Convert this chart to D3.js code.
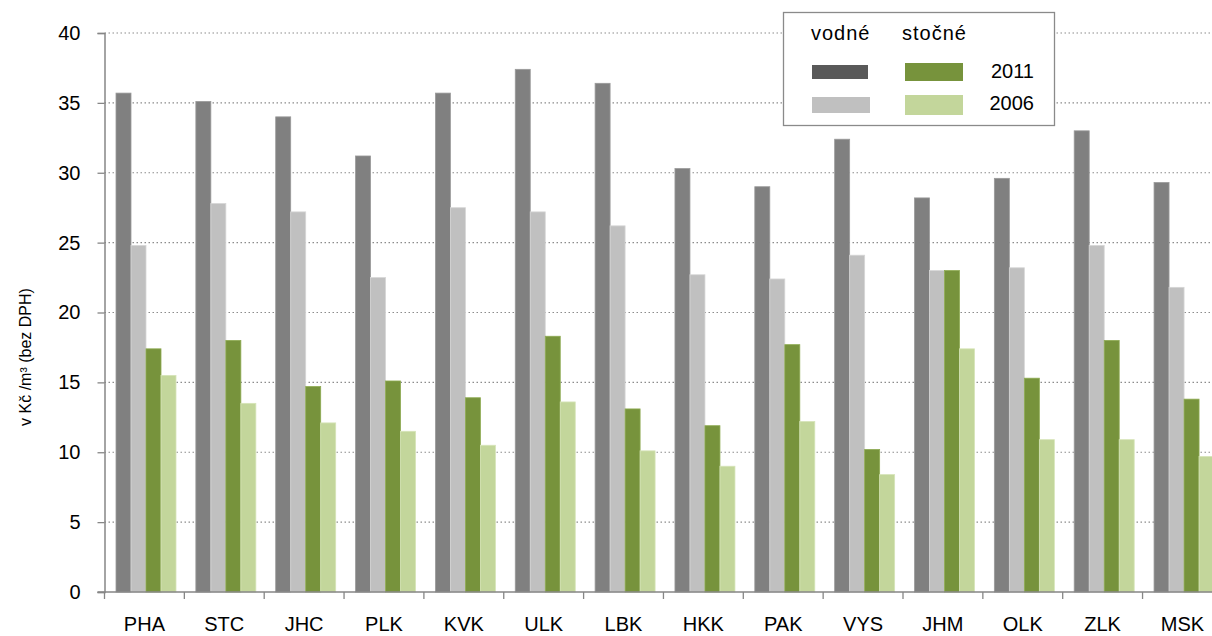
<!DOCTYPE html>
<html>
<head>
<meta charset="utf-8">
<script src="https://cdn.jsdelivr.net/npm/d3@7"></script>
<style>
  body { margin: 0; background: #fff; }
  svg text { font-family: "Liberation Sans", Arial, sans-serif; fill: #000; }
  .grid line { stroke: #8c8c8c; stroke-width: 1.2; stroke-dasharray: 1.5 2.5; }
</style>
</head>
<body>
<div class="root"></div>
<script>
var regions = ['PHA', 'STC', 'JHC', 'PLK', 'KVK', 'ULK', 'LBK', 'HKK', 'PAK', 'VYS', 'JHM', 'OLK', 'ZLK', 'MSK'];
var vodne2011 = [35.7, 35.1, 34.0, 31.2, 35.7, 37.4, 36.4, 30.3, 29.0, 32.4, 28.2, 29.6, 33.0, 29.3];
var vodne2006 = [24.8, 27.8, 27.2, 22.5, 27.5, 27.2, 26.2, 22.7, 22.4, 24.1, 23.0, 23.2, 24.8, 21.8];
var stocne2011 = [17.4, 18.0, 14.7, 15.1, 13.9, 18.3, 13.1, 11.9, 17.7, 10.2, 23.0, 15.3, 18.0, 13.8];
var stocne2006 = [15.5, 13.5, 12.1, 11.5, 10.5, 13.6, 10.1, 9.0, 12.2, 8.4, 17.4, 10.9, 10.9, 9.7];
var yTicks = [0, 5, 10, 15, 20, 25, 30, 35, 40];

function runChart() {
  var w = 1212, h = 636;
  var left = 104.5, top = 33, bottom = 592;
  var step = 79.85;

  var svg = d3.select('.root').append('svg')
    .attr('width', w)
    .attr('height', h);

  var x = d3.scaleBand()
    .domain(regions)
    .range([left, left + step * regions.length])
    .paddingInner(0)
    .paddingOuter(0);

  var series = ['v11', 'v06', 's11', 's06'];
  var xs = d3.scaleBand()
    .domain(series)
    .range([11.5, 11.5 + 60]);

  var y = d3.scaleLinear()
    .domain([0, 40])
    .range([bottom, top]);

  var colors = { v11: '#808080', v06: '#c0c0c0', s11: '#77933c', s06: '#c3d69b' };
  var edges = { v11: '#9a9a9a', v06: '#d6d6d6', s11: '#8eab52', s06: '#d6e4b8' };

  // gridlines
  svg.append('g')
    .attr('class', 'grid')
    .selectAll('line')
    .data(yTicks.filter(function(d) { return d > 0; }))
    .enter().append('line')
      .attr('x1', left)
      .attr('x2', w)
      .attr('y1', function(d) { return y(d); })
      .attr('y2', function(d) { return y(d); });

  var rows = regions.map(function(r, i) {
    return { region: r, v11: vodne2011[i], v06: vodne2006[i], s11: stocne2011[i], s06: stocne2006[i] };
  });

  var groups = svg.append('g')
    .selectAll('g')
    .data(rows)
    .enter().append('g')
      .attr('transform', function(d) { return 'translate(' + x(d.region) + ',0)'; });

  groups.selectAll('rect')
    .data(function(d) { return series.map(function(k) { return { key: k, value: d[k] }; }); })
    .enter().append('rect')
      .attr('x', function(d) { return xs(d.key); })
      .attr('y', function(d) { return y(d.value); })
      .attr('width', xs.bandwidth())
      .attr('height', function(d) { return bottom - y(d.value); })
      .attr('fill', function(d) { return colors[d.key]; })
      .attr('stroke', function(d) { return edges[d.key]; })
      .attr('stroke-width', 0.8);

  // y axis
  var yAxis = d3.axisLeft(y)
    .tickValues(yTicks)
    .tickSize(7)
    .tickPadding(17);
  var gy = svg.append('g')
    .attr('transform', 'translate(' + left + ',0)')
    .call(yAxis);
  gy.select('.domain').attr('stroke', '#868686').attr('stroke-width', 1.5);
  gy.selectAll('.tick line').attr('stroke', '#868686').attr('stroke-width', 1.3);
  gy.selectAll('.tick text')
    .attr('font-size', '20px')
    .attr('fill', '#000')
    .attr('font-family', '"Liberation Sans", Arial, sans-serif');

  // x axis
  var gx = svg.append('g')
    .attr('transform', 'translate(0,' + bottom + ')');
  gx.append('line')
    .attr('x1', left - 7)
    .attr('x2', w)
    .attr('y1', 0)
    .attr('y2', 0)
    .attr('stroke', '#868686')
    .attr('stroke-width', 1.5);
  gx.selectAll('.xtick')
    .data(regions)
    .enter().append('line')
      .attr('x1', function(d) { return x(d); })
      .attr('x2', function(d) { return x(d); })
      .attr('y1', 0)
      .attr('y2', 7)
      .attr('stroke', '#868686')
      .attr('stroke-width', 1.3);
  gx.selectAll('text')
    .data(regions)
    .enter().append('text')
      .attr('x', function(d) { return x(d) + x.bandwidth() / 2; })
      .attr('y', 39)
      .attr('text-anchor', 'middle')
      .attr('font-size', '20px')
      .text(function(d) { return d; });

  // y title
  svg.append('text')
    .attr('transform', 'translate(31,357) rotate(-90)')
    .attr('text-anchor', 'middle')
    .attr('font-size', '16px')
    .text('v Kč /m³  (bez DPH)');

  // legend
  var lg = svg.append('g');
  lg.append('rect')
    .attr('x', 783.5)
    .attr('y', 12.5)
    .attr('width', 271)
    .attr('height', 113)
    .attr('fill', '#fff')
    .attr('stroke', '#8a8a8a')
    .attr('stroke-width', 1.3);
  lg.append('text').attr('x', 811).attr('y', 40).attr('font-size', '20px').attr('letter-spacing', '1px').text('vodné');
  lg.append('text').attr('x', 902).attr('y', 40).attr('font-size', '20px').attr('letter-spacing', '1px').text('stočné');
  lg.append('rect').attr('x', 812).attr('y', 65).attr('width', 56).attr('height', 14).attr('fill', '#595959');
  lg.append('rect').attr('x', 812).attr('y', 97).attr('width', 58).attr('height', 16).attr('fill', '#c0c0c0');
  lg.append('rect').attr('x', 905).attr('y', 63).attr('width', 58).attr('height', 18).attr('fill', '#77933c');
  lg.append('rect').attr('x', 905).attr('y', 95).attr('width', 58).attr('height', 20).attr('fill', '#c3d69b');
  lg.append('text').attr('x', 1034).attr('y', 78).attr('text-anchor', 'end').attr('font-size', '20px').text('2011');
  lg.append('text').attr('x', 1034).attr('y', 110).attr('text-anchor', 'end').attr('font-size', '20px').text('2006');
}

window.onload = function() {
  runChart();
};
</script>
</body>
</html>
